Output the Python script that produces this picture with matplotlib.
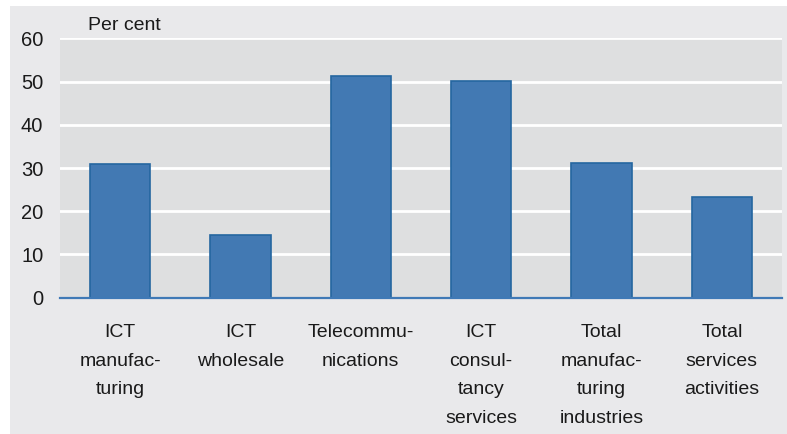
import matplotlib.pyplot as plt
from matplotlib.patches import Rectangle

categories = ["ICT\nmanufac-\nturing", "ICT\nwholesale", "Telecommu-\nnications",
              "ICT\nconsul-\ntancy\nservices", "Total\nmanufac-\nturing\nindustries",
              "Total\nservices\nactivities"]
values = [30.9, 14.4, 51.3, 50.1, 31.2, 23.3]
yticks = [0, 10, 20, 30, 40, 50, 60]

plt.rcParams['font.family'] = ['Liberation Sans Narrow', 'Liberation Sans', 'DejaVu Sans']

W, H = 787, 434
fig = plt.figure(figsize=(W / 100, H / 100), dpi=100)
fig.patch.set_facecolor("white")
# outer grey panel
fig.patches.append(Rectangle((10 / W, 0), 1 - 10 / W, (H - 6) / H,
                             transform=fig.transFigure, facecolor="#e9e9eb",
                             edgecolor="none", zorder=-10))

ax = fig.add_axes([60 / W, (H - 297.5) / H, (782 - 60) / W, (297.5 - 38.5) / H])
ax.set_facecolor("#dedfe0")

x = list(range(len(values)))
ax.bar(x, values, width=0.5, color="#4279b3", edgecolor="#2566a0", linewidth=1.2, zorder=3)

ax.set_xlim(-0.5, 5.5)
ax.set_ylim(0, 60)
ax.set_yticks(yticks)
ax.yaxis.grid(True, color="white", linewidth=2)
ax.set_axisbelow(True)
ax.axhline(0, color="#3f79b6", linewidth=1.6, zorder=4, clip_on=False)

for s in ax.spines.values():
    s.set_visible(False)

ax.set_xticks(x)
ax.set_xticklabels(categories, fontsize=14, linespacing=1.9, va="top", color="#1a1a1a")
ax.tick_params(axis="x", length=0, pad=19)
ax.tick_params(axis="y", length=0, pad=12, labelsize=14.5, labelcolor="#1a1a1a")

fig.text(88 / W, (H - 25) / H, "Per cent", fontsize=14, va="center", ha="left", color="#1a1a1a")

fig.savefig("out.png", dpi=100)
